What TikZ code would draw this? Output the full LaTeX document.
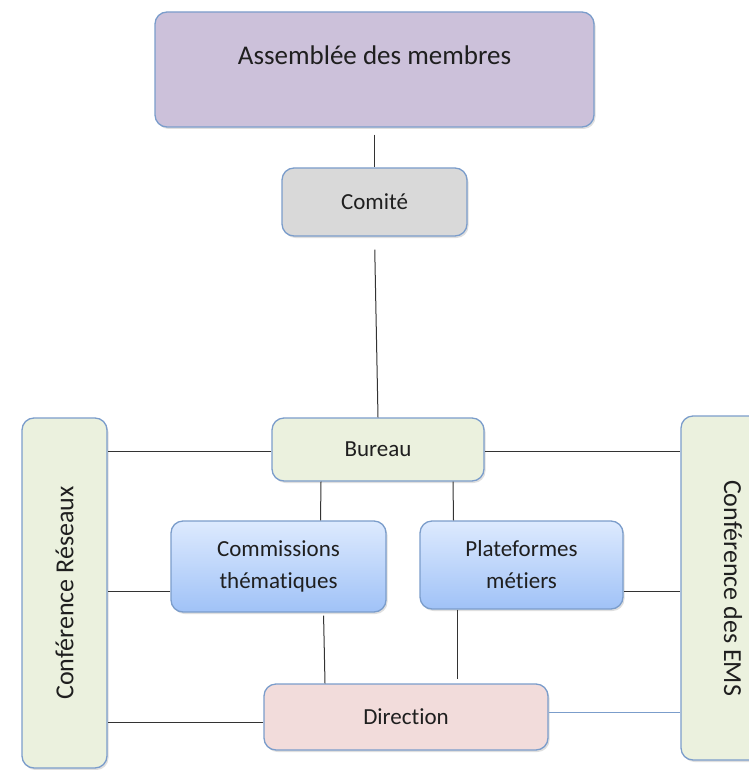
\documentclass[tikz,border=0pt]{standalone}
\usepackage{fontspec}
\setmainfont{Carlito}[Ligatures={NoCommon,NoContextual}]
\usepackage{graphicx}
\usepackage{tikz}
\usetikzlibrary{shadows}

\definecolor{boxline}{HTML}{7B9DCB}
\definecolor{assfill}{HTML}{CCC1DA}
\definecolor{comfill}{HTML}{D9D9D9}
\definecolor{burfill}{HTML}{EBF1DE}
\definecolor{dirfill}{HTML}{F2DCDB}
\definecolor{bluetop}{HTML}{DDEAFE}
\definecolor{bluebot}{HTML}{A0C2F7}

\begin{document}
\begin{tikzpicture}[x=1pt,y=1pt]
      \tikzstyle{every node}=[draw=boxline,line width=1.3pt,rounded corners=12pt,inner sep=0pt,align=center,
        font=\fontsize{23}{32}\selectfont,text=black!88,
        drop shadow={opacity=0.25,shadow xshift=1.5pt,shadow yshift=-2pt}]
      \tikzstyle{link}=[line width=1pt,draw=black!80]
      \tikzstyle{bigtext}=[font=\fontsize{27}{32}\selectfont]
      \tikzstyle{sidetext}=[font=\fontsize{26}{32}\selectfont]

      \useasboundingbox (0,0) rectangle (748,-770);

      \node[bigtext,fill=assfill,minimum width=439,minimum height=115,text height=18pt,text depth=27pt] (assemblee) at (374.5,-69.5) {Assemblée des membres};
      \node[fill=comfill,minimum width=185,minimum height=68] (comite) at (374.5,-202) {Comité};
      \node[fill=burfill,minimum width=212,minimum height=63] (bureau) at (378,-449.5) {Bureau};

      \node[top color=bluetop,bottom color=bluebot,minimum width=215,minimum height=91] (commissions) at (278.5,-566.5) {Commissions\\thématiques};
      \node[top color=bluetop,bottom color=bluebot,minimum width=203,minimum height=88] (plateformes) at (521.5,-565) {Plateformes\\métiers};

      \node[fill=dirfill,minimum width=284,minimum height=66] (direction) at (406,-717) {Direction};

      \node[sidetext,fill=burfill,minimum width=85,minimum height=350] (reseaux) at (64.5,-593) {\rotatebox{90}{Conférence Réseaux}};
      \node[sidetext,fill=burfill,minimum width=104,minimum height=344] (ems) at (733,-588) {\rotatebox{-90}{Conférence des EMS}};

      \draw[link,shorten <=7pt] (assemblee.south) -- (comite.north);
      \draw[link,shorten <=13pt] (comite.south) -- (bureau.north);

      \draw[link] ([yshift=-2pt]bureau.west) -- ([yshift=-2pt]bureau.west -| reseaux.east);
      \draw[link] ([yshift=-2pt]bureau.east) -- ([yshift=-2pt]bureau.east -| ems.west);

      \draw[link] ([xshift=-57pt]bureau.south) -- ([xshift=42pt]commissions.north);
      \draw[link] ([xshift=75pt]bureau.south) -- ([xshift=-68pt]plateformes.north);

      \draw[link] ([yshift=-25pt]commissions.west) -- ([yshift=-25pt]commissions.west -| reseaux.east);
      \draw[link] ([yshift=-26.5pt]plateformes.east) -- ([yshift=-26.5pt]plateformes.east -| ems.west);

      \draw[link,shorten <=3pt] ([xshift=45pt]commissions.south) -- ([xshift=-81pt]direction.north);
      \draw[link,shorten >=4pt] ([xshift=-64pt]plateformes.south) -- ([xshift=51.5pt]direction.north);

      \draw[link] ([yshift=-5.5pt]direction.west) -- ([yshift=-5.5pt]direction.west -| reseaux.east);
      \draw[link,draw=boxline] ([yshift=4.5pt]direction.east) -- ([yshift=4.5pt]direction.east -| ems.west);

    \end{tikzpicture}
\end{document}
